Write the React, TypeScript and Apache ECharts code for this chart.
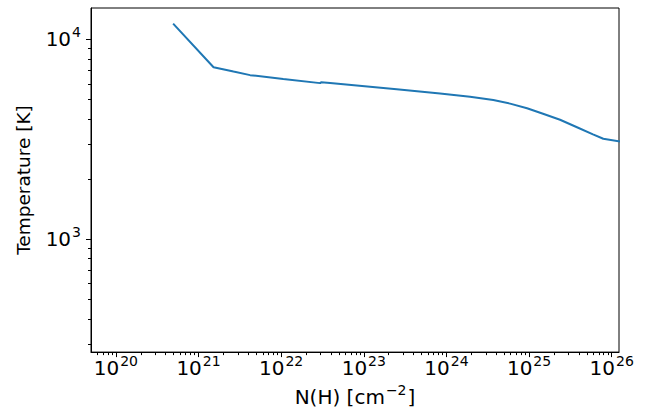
import React, { useEffect, useRef } from 'react';
import * as echarts from 'echarts';

// Column density N(H) [cm^-2] and temperature [K]
const columnDensity = [
  4.93e20, 1.52e21, 2.65e21, 4.21e21, 1.06e22, 2.96e22, 3.05e22, 3.91e22,
  2.5e23, 8.37e23, 1.93e24, 3.69e24, 5.89e24, 9.45e24, 1.475e25, 2.37e25,
  3.8e25, 5.93e25, 7.91e25, 1.585e26,
];
const temperature = [
  11990, 7260, 6905, 6628, 6335, 6045, 6110, 6050,
  5630, 5365, 5167, 4972, 4773, 4527, 4247, 3964,
  3638, 3353, 3186, 3040,
];

// Axis ranges and decade tick exponents
const xRange = [5.0e19, 1.225e26];
const yRange = [273, 14360];
const xDecades = [20, 21, 22, 23, 24, 25, 26];
const yDecades = [3, 4];

const xTitle = 'N(H) [cm';
const xTitleSup = '\u22122';
const yTitle = 'Temperature [K]';

const FONT = 'DejaVu Sans';

function minorLogs(lo: number, hi: number): number[] {
  const out: number[] = [];
  for (let n = Math.floor(lo); n <= Math.ceil(hi); n++) {
    for (let k = 2; k <= 9; k++) {
      const v = n + Math.log10(k);
      if (v > lo && v < hi) out.push(v);
    }
  }
  return out;
}

export default function App() {
  const ref = useRef<HTMLDivElement>(null);

  useEffect(() => {
    if (!ref.current) return;
    const chart = echarts.init(ref.current, null, { renderer: 'svg' });

    const lx0 = Math.log10(xRange[0]);
    const lx1 = Math.log10(xRange[1]);
    const ly0 = Math.log10(yRange[0]);
    const ly1 = Math.log10(yRange[1]);

    const data = columnDensity.map((x, i) => [Math.log10(x), Math.log10(temperature[i])]);

    const supRich = {
      b: { fontSize: 20, lineHeight: 28, fontFamily: FONT, color: '#000' },
      s: { fontSize: 14, lineHeight: 14, verticalAlign: 'top', fontFamily: FONT, color: '#000', padding: [0, 0, 0, 1] },
    };

    const tickStyle = { color: '#000', width: 1 };

    const option: any = {
      animation: false,
      backgroundColor: '#fff',
      grid: {
        left: 91, right: 37, top: 8, bottom: 54,
        show: true, borderColor: '#000', borderWidth: 1, backgroundColor: 'transparent',
        containLabel: false,
      },
      xAxis: [
        {
          type: 'value', min: lx0, max: lx1, position: 'bottom',
          axisLine: { show: true, lineStyle: { color: '#000', width: 1 } },
          splitLine: { show: false },
          axisTick: { show: true, inside: false, customValues: xDecades, length: 5, lineStyle: tickStyle },
          axisLabel: {
            show: true, customValues: xDecades, margin: 2,
            formatter: (v: number) => `{b|10}{s|${Math.round(v)}}`,
            rich: supRich,
          },
          name: `{t|${xTitle}}{s|${xTitleSup}}{t|]}`,
          nameLocation: 'middle', nameGap: 29,
          nameTextStyle: {
            rich: {
              t: { fontSize: 20, lineHeight: 28, fontFamily: FONT, color: '#000' },
              s: { fontSize: 14, lineHeight: 14, verticalAlign: 'top', fontFamily: FONT, color: '#000', padding: [0, 1, 0, 1] },
            },
          },
        },
        {
          type: 'value', min: lx0, max: lx1, position: 'bottom',
          axisLine: { show: false },
          splitLine: { show: false },
          axisTick: { show: true, inside: false, customValues: minorLogs(lx0, lx1), length: 3, lineStyle: tickStyle },
          axisLabel: { show: false },
        },
      ],
      yAxis: [
        {
          type: 'value', min: ly0, max: ly1, position: 'left',
          axisLine: { show: true, lineStyle: { color: '#000', width: 1 } },
          splitLine: { show: false },
          axisTick: { show: true, inside: false, customValues: yDecades, length: 5, lineStyle: tickStyle },
          axisLabel: {
            show: true, customValues: yDecades, margin: 10,
            formatter: (v: number) => `{b|10}{s|${Math.round(v)}}`,
            rich: supRich,
          },
          name: yTitle,
          nameLocation: 'middle', nameGap: 54,
          nameTextStyle: { fontSize: 18.5, lineHeight: 22, fontFamily: FONT, color: '#000' },
        },
        {
          type: 'value', min: ly0, max: ly1, position: 'left',
          axisLine: { show: false },
          splitLine: { show: false },
          axisTick: { show: true, inside: false, customValues: minorLogs(ly0, ly1), length: 3, lineStyle: tickStyle },
          axisLabel: { show: false },
        },
      ],
      series: [
        {
          type: 'line',
          xAxisIndex: 0, yAxisIndex: 0,
          data,
          showSymbol: false,
          symbol: 'none',
          clip: true,
          lineStyle: { color: '#1f77b4', width: 2 },
        },
      ],
    };

    chart.setOption(option);
    return () => chart.dispose();
  }, []);

  return (
    <div
      ref={ref}
      style={{ position: 'fixed', left: 0, top: 0, width: 656, height: 412, background: '#fff' }}
    />
  );
}
